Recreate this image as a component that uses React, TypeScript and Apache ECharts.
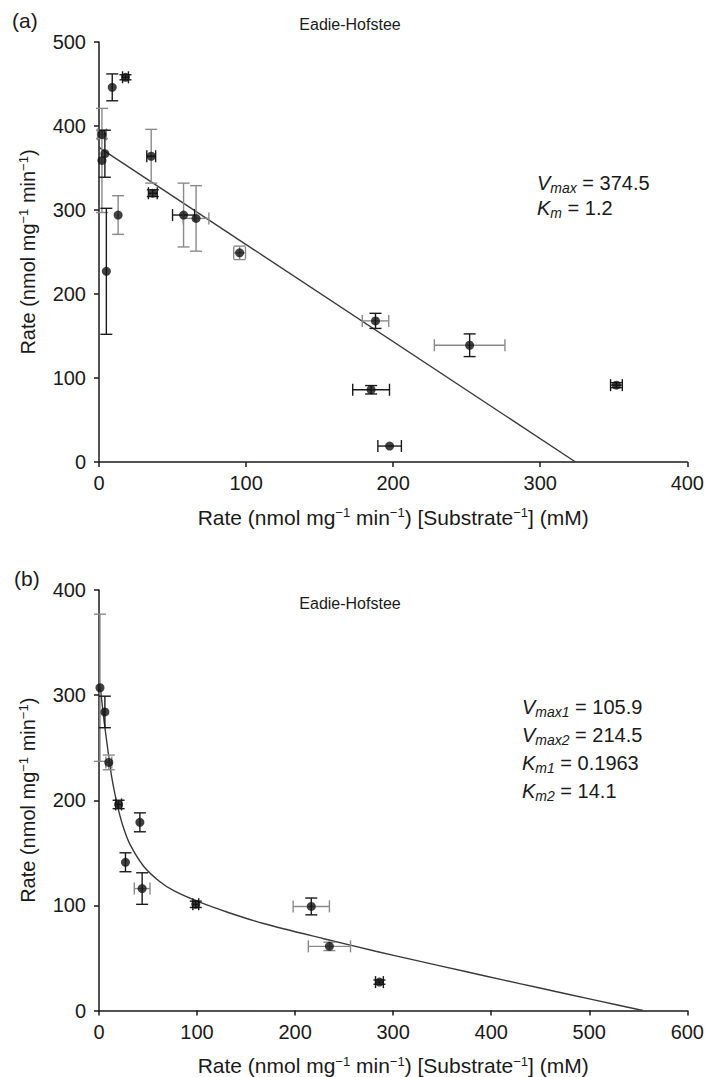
import React, { useEffect, useRef } from "react";
import * as echarts from "echarts";

// ---------- Panel (a) data ----------
const aX = [9, 18, 2, 2, 4, 13, 5, 35.5, 36.6, 57.5, 66, 95.6, 188, 185, 197.6, 252, 351.8];
const aY = [446, 458, 390, 359, 367, 294, 227, 364, 320, 294, 290, 249, 168, 86, 19, 139, 91.5];
// error magnitudes (black / grey bars)
const aXErrK = [0, 2, 0, 0, 0, 0, 0, 3, 3, 7.5, 0, 0, 0, 12.5, 8, 0, 4];
const aYErrK = [16, 3, 0, 0, 28, 0, 75, 0, 4, 0, 0, 0, 9, 5, 0, 13.5, 3];
const aXErrG = [0, 0, 3, 0, 0, 0, 0, 0, 0, 0, 8.7, 4, 9, 0, 0, 24, 0];
const aYErrG = [0, 0, 5, 62, 0, 23, 0, 32, 0, 38, 39, 8, 0, 0, 0, 0, 0];
const aFitX = [0, 324];
const aFitY = [374.5, 0];

// ---------- Panel (b) data ----------
const bX = [1, 6, 10, 20, 27, 41.7, 44, 98.7, 216.5, 235, 286];
const bY = [307, 284, 236, 196, 141, 179, 116, 101, 99, 61, 27];
const bXErrK = [0, 0, 0, 3, 0, 0, 0, 3, 0, 0, 4];
const bYErrK = [0, 15, 0, 4, 9, 9, 15, 3, 8, 0, 2];
const bXErrG = [0, 0, 3, 0, 0, 0, 8, 0, 18.5, 21.5, 0];
const bYErrG = [70, 0, 7, 0, 0, 0, 0, 0, 0, 4, 0];
const bFitX = [1.5, 2.9, 5.5, 11.5, 14.3, 19.3, 24.9, 31.6, 45.7, 61.5, 76.2, 102.7, 132.6, 166.8, 228.3, 282.2, 320.9, 372.6, 413, 445, 504.8, 554.7];
const bFitY = [306, 294, 273, 231, 215, 193, 174, 158, 137, 123, 114, 103, 93, 83, 68.5, 56.4, 48.1, 37.3, 28.9, 22.3, 10.1, 0];

// ---------- Axis ticks ----------
const aXMax = 400;
const aYMax = 500;
const bXMax = 600;
const bYMax = 400;
const tickStep = 100;

const xName = "Rate (nmol mg{sup|−1} min{sup|−1}) [Substrate{sup|−1}] (mM)";
const yName = "Rate (nmol mg{sup|−1} min{sup|−1})";

const FONT = "'Liberation Sans', Arial, Helvetica, sans-serif";
const INK = "#1a1a1a";
const GREY = "#8a8a8a";

function errRender(params: any, api: any) {
  const x = api.value(0);
  const y = api.value(1);
  const xk = api.value(2);
  const yk = api.value(3);
  const xg = api.value(4);
  const yg = api.value(5);
  const children: any[] = [];
  const cap = 6;
  const add = (xe: number, ye: number, color: string) => {
    const st = { stroke: color, lineWidth: 1.4 };
    if (ye > 0) {
      const t = api.coord([x, y + ye]);
      const b = api.coord([x, y - ye]);
      children.push({ type: "line", shape: { x1: t[0], y1: t[1], x2: b[0], y2: b[1] }, style: st });
      children.push({ type: "line", shape: { x1: t[0] - cap, y1: t[1], x2: t[0] + cap, y2: t[1] }, style: st });
      children.push({ type: "line", shape: { x1: b[0] - cap, y1: b[1], x2: b[0] + cap, y2: b[1] }, style: st });
    }
    if (xe > 0) {
      const l = api.coord([x - xe, y]);
      const r = api.coord([x + xe, y]);
      children.push({ type: "line", shape: { x1: l[0], y1: l[1], x2: r[0], y2: r[1] }, style: st });
      children.push({ type: "line", shape: { x1: l[0], y1: l[1] - cap, x2: l[0], y2: l[1] + cap }, style: st });
      children.push({ type: "line", shape: { x1: r[0], y1: r[1] - cap, x2: r[0], y2: r[1] + cap }, style: st });
    }
  };
  add(xg, yg, GREY);
  add(xk, yk, INK);
  return { type: "group", children };
}

function nameStyle(size: number) {
  return {
    fontSize: size,
    color: INK,
    fontFamily: FONT,
    rich: { sup: { fontSize: 13, fontFamily: FONT, color: INK, padding: [0, 0, 9, 0] } },
  };
}

function axisCommon(extra: any, margin: number) {
  return {
    type: "value",
    min: 0,
    interval: tickStep,
    axisLine: { show: true, onZero: false, lineStyle: { color: INK, width: 1.5 } },
    axisTick: { show: true, length: 5, lineStyle: { color: INK, width: 1.5 } },
    axisLabel: { fontSize: 20, color: INK, fontFamily: FONT, margin },
    splitLine: { show: false },
    nameLocation: "middle",
    ...extra,
  };
}

function rows(xs: number[], ys: number[], a: number[], b: number[], c: number[], d: number[]) {
  return xs.map((x, i) => [x, ys[i], a[i], b[i], c[i], d[i]]);
}

export default function App() {
  const ref = useRef<HTMLDivElement>(null);
  useEffect(() => {
    if (!ref.current) return;
    const chart = echarts.init(ref.current, undefined, { renderer: "svg" });
    const rich = {
      i: { fontSize: 20, fontStyle: "italic", fontFamily: FONT, color: INK },
      s: { fontSize: 14, fontStyle: "italic", fontFamily: FONT, color: INK, padding: [10, 0, 0, 0] },
      n: { fontSize: 20, fontFamily: FONT, color: INK },
    };
    const ann = (x: number, y: number, text: string) => ({
      type: "text",
      x,
      y,
      style: { text, rich, verticalAlign: "middle", align: "left", fontFamily: FONT, fontSize: 20, fill: INK },
    });
    const plain = (x: number, y: number, text: string, size: number, align: string) => ({
      type: "text",
      x,
      y,
      style: { text, fontFamily: FONT, fontSize: size, fill: INK, align, verticalAlign: "middle" },
    });

    chart.setOption({
      animation: false,
      backgroundColor: "#ffffff",
      textStyle: { fontFamily: FONT },
      grid: [
        { left: 99, top: 42, width: 589, height: 420 },
        { left: 99, top: 590, width: 589, height: 422 },
      ],
      xAxis: [
        axisCommon({ gridIndex: 0, max: aXMax, name: xName, nameGap: 44, nameTextStyle: nameStyle(21) }, 11),
        axisCommon({ gridIndex: 1, max: bXMax, name: xName, nameGap: 44, nameTextStyle: nameStyle(21) }, 11),
      ],
      yAxis: [
        axisCommon({ gridIndex: 0, max: aYMax, name: yName, nameGap: 60, nameTextStyle: nameStyle(20) }, 13),
        axisCommon({ gridIndex: 1, max: bYMax, name: yName, nameGap: 60, nameTextStyle: nameStyle(20) }, 13),
      ],
      series: [
        {
          type: "line",
          xAxisIndex: 0,
          yAxisIndex: 0,
          data: aFitX.map((x, i) => [x, aFitY[i]]),
          showSymbol: false,
          lineStyle: { color: "#3a3a3a", width: 1.4 },
          z: 1,
        },
        {
          type: "custom",
          xAxisIndex: 0,
          yAxisIndex: 0,
          renderItem: errRender,
          encode: { x: 0, y: 1 },
          data: rows(aX, aY, aXErrK, aYErrK, aXErrG, aYErrG),
          z: 2,
        },
        {
          type: "scatter",
          xAxisIndex: 0,
          yAxisIndex: 0,
          data: aX.map((x, i) => [x, aY[i]]),
          symbolSize: 9,
          itemStyle: { color: "#111" },
          z: 3,
        },
        {
          type: "line",
          xAxisIndex: 1,
          yAxisIndex: 1,
          data: bFitX.map((x, i) => [x, bFitY[i]]),
          showSymbol: false,
          smooth: 0.3,
          lineStyle: { color: "#3a3a3a", width: 1.4 },
          z: 1,
        },
        {
          type: "custom",
          xAxisIndex: 1,
          yAxisIndex: 1,
          renderItem: errRender,
          encode: { x: 0, y: 1 },
          data: rows(bX, bY, bXErrK, bYErrK, bXErrG, bYErrG),
          z: 2,
        },
        {
          type: "scatter",
          xAxisIndex: 1,
          yAxisIndex: 1,
          data: bX.map((x, i) => [x, bY[i]]),
          symbolSize: 9,
          itemStyle: { color: "#111" },
          z: 3,
        },
      ],
      graphic: [
        plain(12, 20, "(a)", 21, "left"),
        plain(14, 578, "(b)", 21, "left"),
        plain(350, 24, "Eadie-Hofstee", 16, "center"),
        plain(350, 603, "Eadie-Hofstee", 16, "center"),
        ann(537, 183, "{i|V}{s|max}{n| = 374.5}"),
        ann(537, 208, "{i|K}{s|m}{n| = 1.2}"),
        ann(522, 707, "{i|V}{s|max1}{n| = 105.9}"),
        ann(522, 735, "{i|V}{s|max2}{n| = 214.5}"),
        ann(522, 763, "{i|K}{s|m1}{n| = 0.1963}"),
        ann(522, 791, "{i|K}{s|m2}{n| = 14.1}"),
      ],
    });
    return () => chart.dispose();
  }, []);
  return (
    <div
      ref={ref}
      style={{ position: "fixed", left: 0, top: 0, width: 707, height: 1077, background: "#fff" }}
    />
  );
}
